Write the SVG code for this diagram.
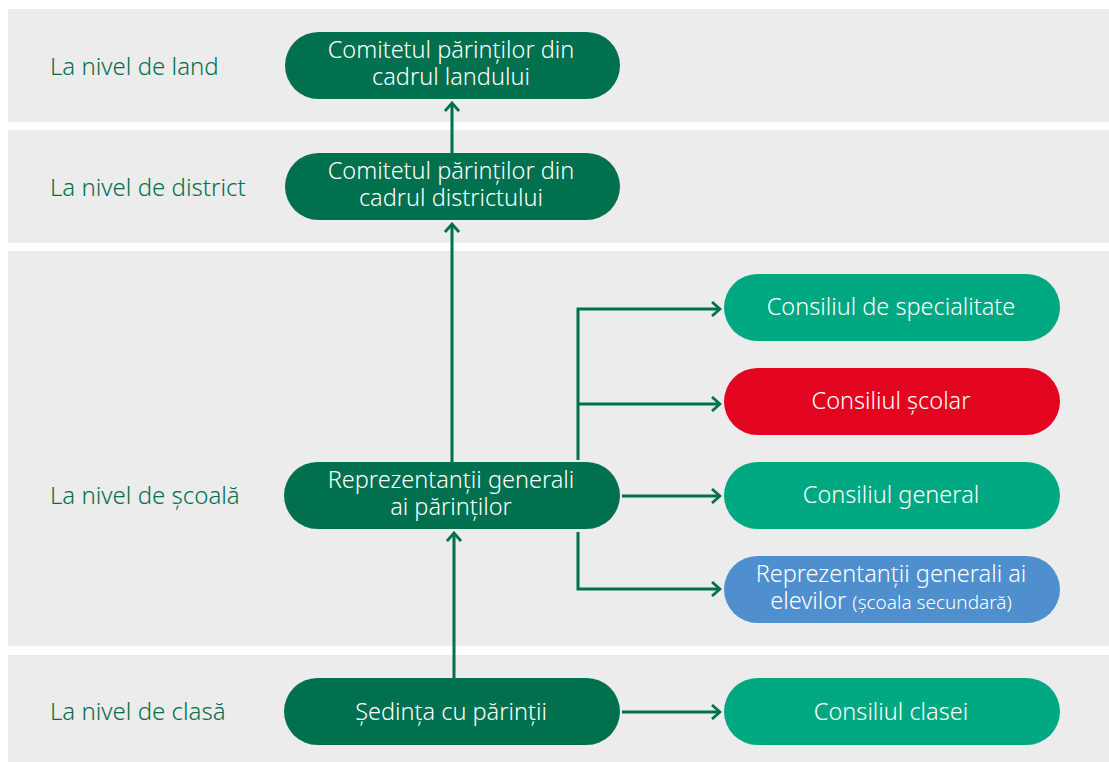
<svg xmlns="http://www.w3.org/2000/svg" width="1109" height="762" viewBox="0 0 1109 762">
<defs>
<style>
.band{fill:#ececec}
.lvl{font-family:"Noto Sans","Liberation Sans",sans-serif;font-size:24px;fill:#00704f;font-weight:300}
.t{font-family:"Noto Sans","Liberation Sans",sans-serif;font-size:23.5px;fill:#ffffff;text-anchor:middle;font-weight:300}
.s{font-size:19px}
.dk{fill:#00704f}
.md{fill:#00a882}
.rd{fill:#e30520}
.bl{fill:#4f8fce}
.c{fill:none;stroke:#00704f;stroke-width:3}
</style>
<marker id="ah" viewBox="0 0 12 16" markerWidth="12" markerHeight="16" refX="10" refY="8" orient="auto" markerUnits="userSpaceOnUse">
<path d="M2,1 L10,8 L2,15" fill="none" stroke="#00704f" stroke-width="2.8"/>
</marker>
</defs>
<rect width="1109" height="762" fill="#ffffff"/>
<g id="bands">
<rect class="band" x="8" y="9" width="1101" height="113"/>
<rect class="band" x="8" y="130" width="1101" height="113"/>
<rect class="band" x="8" y="251" width="1101" height="395"/>
<rect class="band" x="8" y="655" width="1101" height="107"/>
</g>
<g id="levels">
<text class="lvl" x="50" y="75">La nivel de land</text>
<text class="lvl" x="50" y="196">La nivel de district</text>
<text class="lvl" x="50" y="504">La nivel de școală</text>
<text class="lvl" x="50" y="720">La nivel de clasă</text>
</g>
<g id="connectors">
<line class="c" x1="452" y1="153" x2="452" y2="103" marker-end="url(#ah)"/>
<line class="c" x1="452" y1="462" x2="452" y2="224" marker-end="url(#ah)"/>
<line class="c" x1="454" y1="678" x2="454" y2="533" marker-end="url(#ah)"/>
<polyline class="c" points="578,460 578,309 720,309" marker-end="url(#ah)"/>
<line class="c" x1="578" y1="404" x2="720" y2="404" marker-end="url(#ah)"/>
<line class="c" x1="622" y1="496" x2="720" y2="496" marker-end="url(#ah)"/>
<polyline class="c" points="578,532 578,589 720,589" marker-end="url(#ah)"/>
<line class="c" x1="622" y1="712" x2="720" y2="712" marker-end="url(#ah)"/>
</g>
<g id="n-land">
<rect class="dk" x="285" y="32" width="335" height="67" rx="33.5"/>
<text class="t" x="451" y="58">Comitetul părinților din</text>
<text class="t" x="451" y="85">cadrul landului</text>
</g>
<g id="n-district">
<rect class="dk" x="285" y="153" width="335" height="67" rx="33.5"/>
<text class="t" x="451" y="179">Comitetul părinților din</text>
<text class="t" x="451" y="206">cadrul districtului</text>
</g>
<g id="n-reprez">
<rect class="dk" x="284" y="462" width="336" height="67" rx="33.5"/>
<text class="t" x="451" y="488">Reprezentanții generali</text>
<text class="t" x="451" y="515">ai părinților</text>
</g>
<g id="n-sedinta">
<rect class="dk" x="284" y="678" width="336" height="67" rx="33.5"/>
<text class="t" x="451" y="720">Ședința cu părinții</text>
</g>
<g id="n-specialitate">
<rect class="md" x="724" y="274" width="336" height="67" rx="33.5"/>
<text class="t" x="891" y="315">Consiliul de specialitate</text>
</g>
<g id="n-scolar">
<rect class="rd" x="724" y="368" width="336" height="67" rx="33.5"/>
<text class="t" x="891" y="409">Consiliul școlar</text>
</g>
<g id="n-general">
<rect class="md" x="724" y="462" width="336" height="67" rx="33.5"/>
<text class="t" x="891" y="503">Consiliul general</text>
</g>
<g id="n-elevi">
<rect class="bl" x="724" y="556" width="336" height="67" rx="33.5"/>
<text class="t" x="891" y="582">Reprezentanții generali ai</text>
<text class="t" x="891" y="609">elevilor <tspan class="s">(școala secundară)</tspan></text>
</g>
<g id="n-clasei">
<rect class="md" x="724" y="678" width="336" height="67" rx="33.5"/>
<text class="t" x="891" y="720">Consiliul clasei</text>
</g>
</svg>
